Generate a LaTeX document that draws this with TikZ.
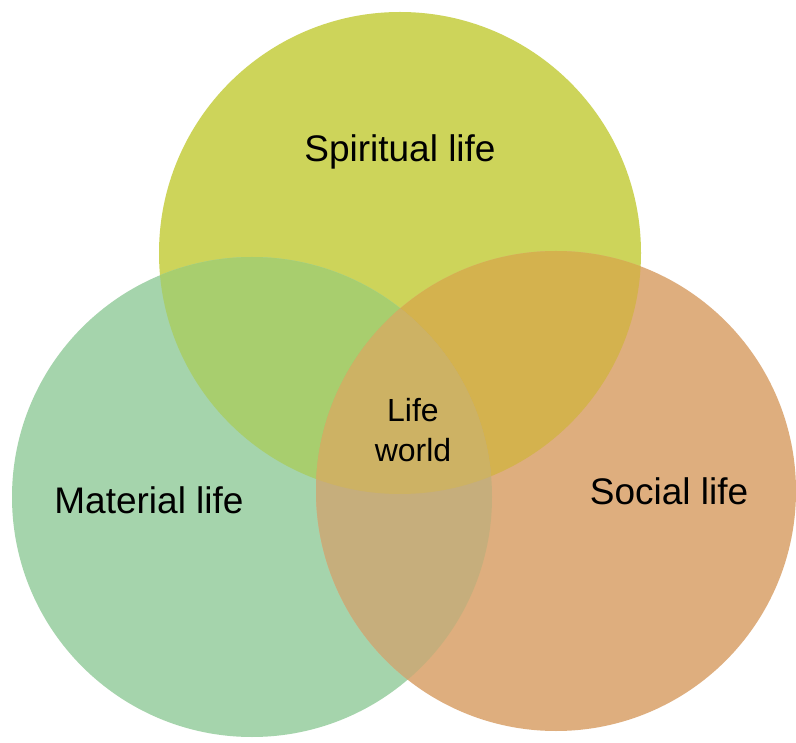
\documentclass[tikz,border=0pt]{standalone}
\usepackage{fontspec}
\setmainfont{Liberation Sans}
\definecolor{spiritcol}{HTML}{CDD45A}
\definecolor{materialcol}{HTML}{A5D4AC}
\definecolor{socialcol}{HTML}{DEAE7E}
\definecolor{spiritmatcol}{HTML}{A8CE6E}
\definecolor{spiritsoccol}{HTML}{D4B24E}
\definecolor{matsoccol}{HTML}{C6AE7C}
\definecolor{lifeworldcol}{HTML}{CDB264}
\newcommand{\spiritcirc}{(400,253) circle (241pt)}
\newcommand{\materialcirc}{(252,497) circle (240pt)}
\newcommand{\socialcirc}{(556,491) circle (240pt)}
\tikzset{
  label text/.style={font=\fontsize{37}{44}\selectfont, text=black},
  centre text/.style={font=\fontsize{32}{40}\selectfont, text=black, align=center}
}
\begin{document}
\begin{tikzpicture}[x=1pt,y=-1pt]
    % Page
    \useasboundingbox[fill=white] (0,0) rectangle (796,743);

    % Three circles
    \fill[spiritcol] \spiritcirc;
    \fill[materialcol] \materialcirc;
    \fill[socialcol] \socialcirc;

    % Pairwise overlaps
    \begin{scope}
        \clip \spiritcirc;
        \fill[spiritmatcol] \materialcirc;
        \fill[spiritsoccol] \socialcirc;
    \end{scope}
    \begin{scope}
        \clip \materialcirc;
        \fill[matsoccol] \socialcirc;
    \end{scope}

    % Middle overlap
    \begin{scope}
        \clip \spiritcirc;
        \clip \materialcirc;
        \fill[lifeworldcol] \socialcirc;
    \end{scope}

    % Labels
    \node[label text] (spiritual) at (400,152) {Spiritual life};
    \node[label text] (material) at (149,500) {Material life};
    \node[label text] (social) at (669,491) {Social life};
    \node[centre text] (lifeworld) at (413,430) {Life\\world};
\end{tikzpicture}
\end{document}
